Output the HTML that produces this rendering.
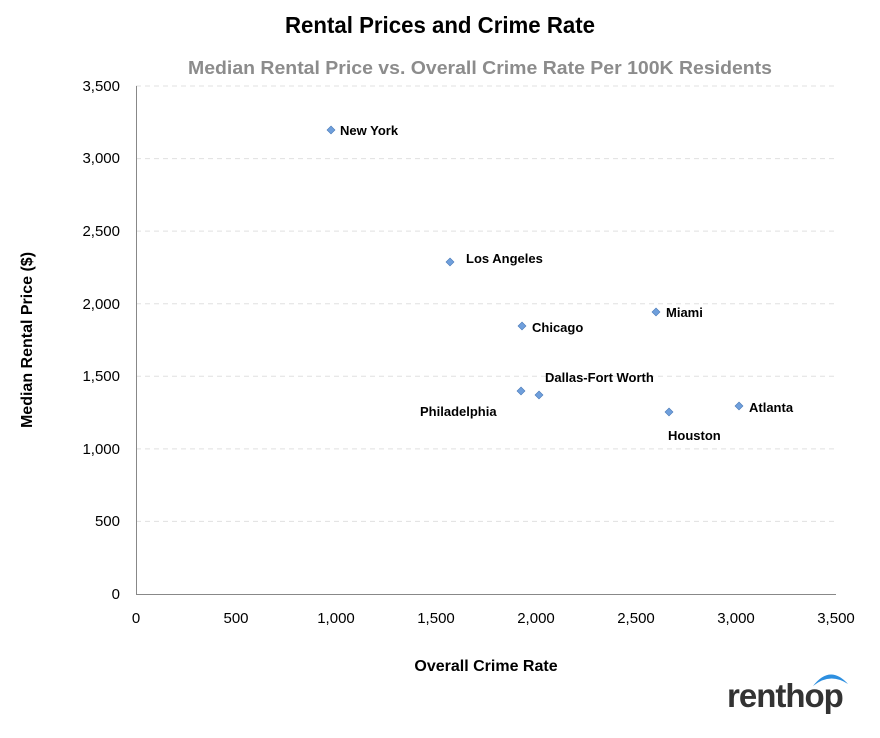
<!DOCTYPE html>
<html><head><meta charset="utf-8"><style>
body{margin:0;background:#fff}
svg text{font-family:"Liberation Sans",Arial,sans-serif}
</style></head><body>
<svg width="880" height="733" viewBox="0 0 880 733" xmlns="http://www.w3.org/2000/svg">
<rect width="880" height="733" fill="#fff"/>
<text x="440" y="33" text-anchor="middle" font-size="23" font-weight="bold" fill="#000" textLength="310" lengthAdjust="spacingAndGlyphs">Rental Prices and Crime Rate</text>
<text x="188" y="74" font-size="18" font-weight="bold" fill="#8c8c8c" textLength="584" lengthAdjust="spacingAndGlyphs">Median Rental Price vs. Overall Crime Rate Per 100K Residents</text>
<g stroke="#e0e0e0" stroke-dasharray="5,4" stroke-width="1">
<line x1="136" x2="836" y1="521.4" y2="521.4"/>
<line x1="136" x2="836" y1="448.9" y2="448.9"/>
<line x1="136" x2="836" y1="376.3" y2="376.3"/>
<line x1="136" x2="836" y1="303.7" y2="303.7"/>
<line x1="136" x2="836" y1="231.1" y2="231.1"/>
<line x1="136" x2="836" y1="158.6" y2="158.6"/>
<line x1="136" x2="836" y1="86" y2="86"/>
</g>
<line x1="136.5" y1="86" x2="136.5" y2="594" stroke="#888"/>
<line x1="136" y1="594.5" x2="836" y2="594.5" stroke="#888"/>
<g font-size="15" fill="#000" text-anchor="end">
<text x="120" y="599">0</text><text x="120" y="526">500</text><text x="120" y="454">1,000</text>
<text x="120" y="381">1,500</text><text x="120" y="309">2,000</text><text x="120" y="236">2,500</text>
<text x="120" y="163">3,000</text><text x="120" y="91">3,500</text>
</g>
<g font-size="15" fill="#000" text-anchor="middle">
<text x="136" y="623">0</text><text x="236" y="623">500</text><text x="336" y="623">1,000</text>
<text x="436" y="623">1,500</text><text x="536" y="623">2,000</text><text x="636" y="623">2,500</text>
<text x="736" y="623">3,000</text><text x="836" y="623">3,500</text>
</g>
<text x="486" y="671" text-anchor="middle" font-size="16" font-weight="bold">Overall Crime Rate</text>
<text transform="translate(32,340) rotate(-90)" text-anchor="middle" font-size="16" font-weight="bold">Median Rental Price ($)</text>
<g fill="#6f9fdc" stroke="#4a7ab8" stroke-width="0.6">
<path d="M331 126l4 4-4 4-4-4z"/>
<path d="M450 258l4 4-4 4-4-4z"/>
<path d="M522 322l4 4-4 4-4-4z"/>
<path d="M656 308l4 4-4 4-4-4z"/>
<path d="M521 387l4 4-4 4-4-4z"/>
<path d="M539 391l4 4-4 4-4-4z"/>
<path d="M669 408l4 4-4 4-4-4z"/>
<path d="M739 402l4 4-4 4-4-4z"/>
</g>
<g font-size="13" font-weight="bold" fill="#000">
<text x="340" y="135">New York</text>
<text x="466" y="263">Los Angeles</text>
<text x="532" y="332">Chicago</text>
<text x="666" y="317">Miami</text>
<text x="545" y="382">Dallas-Fort Worth</text>
<text x="420" y="416">Philadelphia</text>
<text x="668" y="440">Houston</text>
<text x="749" y="412">Atlanta</text>
</g>
<text x="727" y="707" font-size="33" font-weight="bold" fill="#333" letter-spacing="-1">renthop</text>
<path d="M813 686 Q830 664 848 684 Q830 672 813 686z" fill="#2d8fe0"/>
</svg>
</body></html>
